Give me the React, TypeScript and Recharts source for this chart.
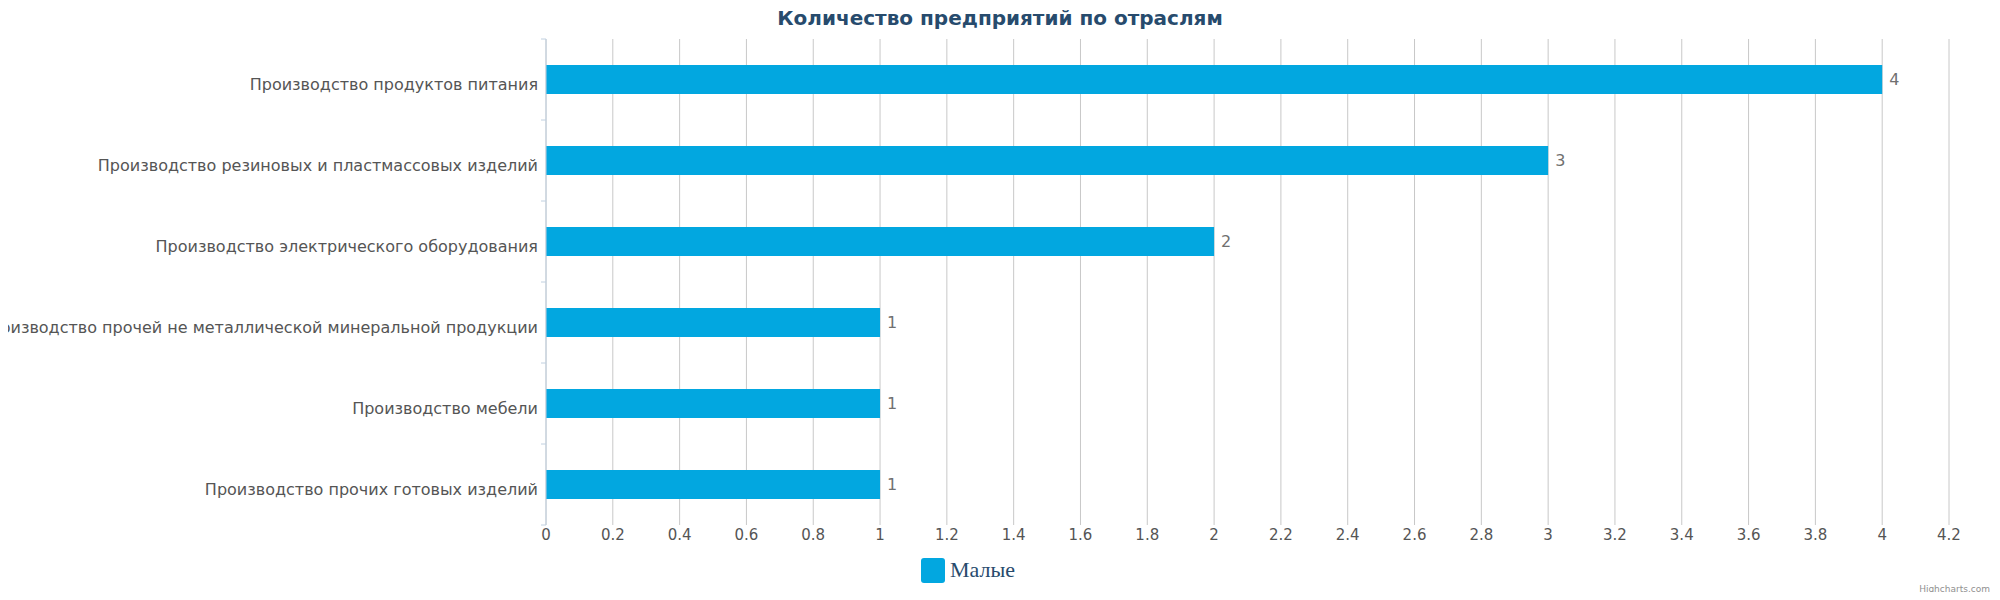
import React from 'react';
import { BarChart, Bar, XAxis, YAxis, CartesianGrid, LabelList } from 'recharts';

const industries = [
  'Производство продуктов питания',
  'Производство резиновых и пластмассовых изделий',
  'Производство электрического оборудования',
  'Производство прочей не металлической минеральной продукции',
  'Производство мебели',
  'Производство прочих готовых изделий',
];
const smallCounts = [4, 3, 2, 1, 1, 1];
const valueTicks = [0, 0.2, 0.4, 0.6, 0.8, 1, 1.2, 1.4, 1.6, 1.8, 2, 2.2, 2.4, 2.6, 2.8, 3, 3.2, 3.4, 3.6, 3.8, 4, 4.2];
const seriesName = 'Малые';
const chartTitle = 'Количество предприятий по отраслям';

const data = industries.map((name, i) => ({ name, small: smallCounts[i] }));

const W = 2000;
const H = 600;
const TOP = 39;
const PLOT_LEFT = 546;
const RIGHT = 51;
const X_AXIS_H = 75;
const BAND_HALF = (H - TOP - X_AXIS_H) / industries.length / 2;
const BAR_COLOR = '#02a7e0';
const FONT = '"DejaVu Sans", Verdana, sans-serif';

const CategoryTick = (props: any) => {
  const { x, y, payload, index } = props;
  const ax = PLOT_LEFT;
  return (
    <g>
      <line x1={ax} x2={ax - 5} y1={y - BAND_HALF} y2={y - BAND_HALF} stroke="#c0d0e0" />
      {index === industries.length - 1 && (
        <line x1={ax} x2={ax - 5} y1={y + BAND_HALF} y2={y + BAND_HALF} stroke="#c0d0e0" />
      )}
      <text x={x} y={y} dy={10} textAnchor="end" fill="#555" fontSize={16} fontFamily={FONT}>
        {payload.value}
      </text>
    </g>
  );
};

const App: React.FC = () => {
  return (
    <div style={{ position: 'relative', width: W, height: H, margin: -8, background: '#fff' }}>
      <div
        style={{
          position: 'absolute',
          top: 6,
          left: 0,
          width: W,
          textAlign: 'center',
          fontFamily: FONT,
          fontWeight: 'bold',
          fontSize: 20,
          lineHeight: '24px',
          color: '#274b6d',
          zIndex: 2,
        }}
      >
        {chartTitle}
      </div>
      <BarChart
        width={W}
        height={H}
        data={data}
        layout="vertical"
        margin={{ top: TOP, right: RIGHT, left: 0, bottom: 0 }}
        barCategoryGap={0}
      >
        <CartesianGrid horizontal={false} stroke="#c8c8c8" />
        <XAxis
          type="number"
          domain={[0, 4.2]}
          ticks={valueTicks}
          interval={0}
          height={X_AXIS_H}
          axisLine={false}
          tickLine={false}
          tickSize={0}
          tickMargin={4}
          tick={{ fill: '#555', fontSize: 15, fontFamily: FONT }}
        />
        <YAxis
          type="category"
          dataKey="name"
          width={PLOT_LEFT}
          axisLine={{ stroke: '#c0d0e0' }}
          tickLine={false}
          tickSize={0}
          tickMargin={8}
          interval={0}
          tick={<CategoryTick />}
        />
        <Bar dataKey="small" name={seriesName} fill={BAR_COLOR} barSize={29} isAnimationActive={false}>
          <LabelList
            dataKey="small"
            position="right"
            offset={7}
            fill="#707070"
            fontSize={16}
            fontFamily={FONT}
          />
        </Bar>
      </BarChart>
      <div
        style={{
          position: 'absolute',
          left: 921,
          top: 558,
          width: 24,
          height: 25,
          borderRadius: 3,
          background: BAR_COLOR,
        }}
      />
      <div
        style={{
          position: 'absolute',
          left: 950,
          top: 555,
          fontFamily: '"Liberation Serif", "Times New Roman", serif',
          fontSize: 22,
          lineHeight: '30px',
          color: '#274b6d',
        }}
      >
        {seriesName}
      </div>
      <div
        style={{
          position: 'absolute',
          right: 10,
          top: 584,
          fontFamily: FONT,
          fontSize: 9,
          color: '#909090',
        }}
      >
        Highcharts.com
      </div>
    </div>
  );
};

export default App;
